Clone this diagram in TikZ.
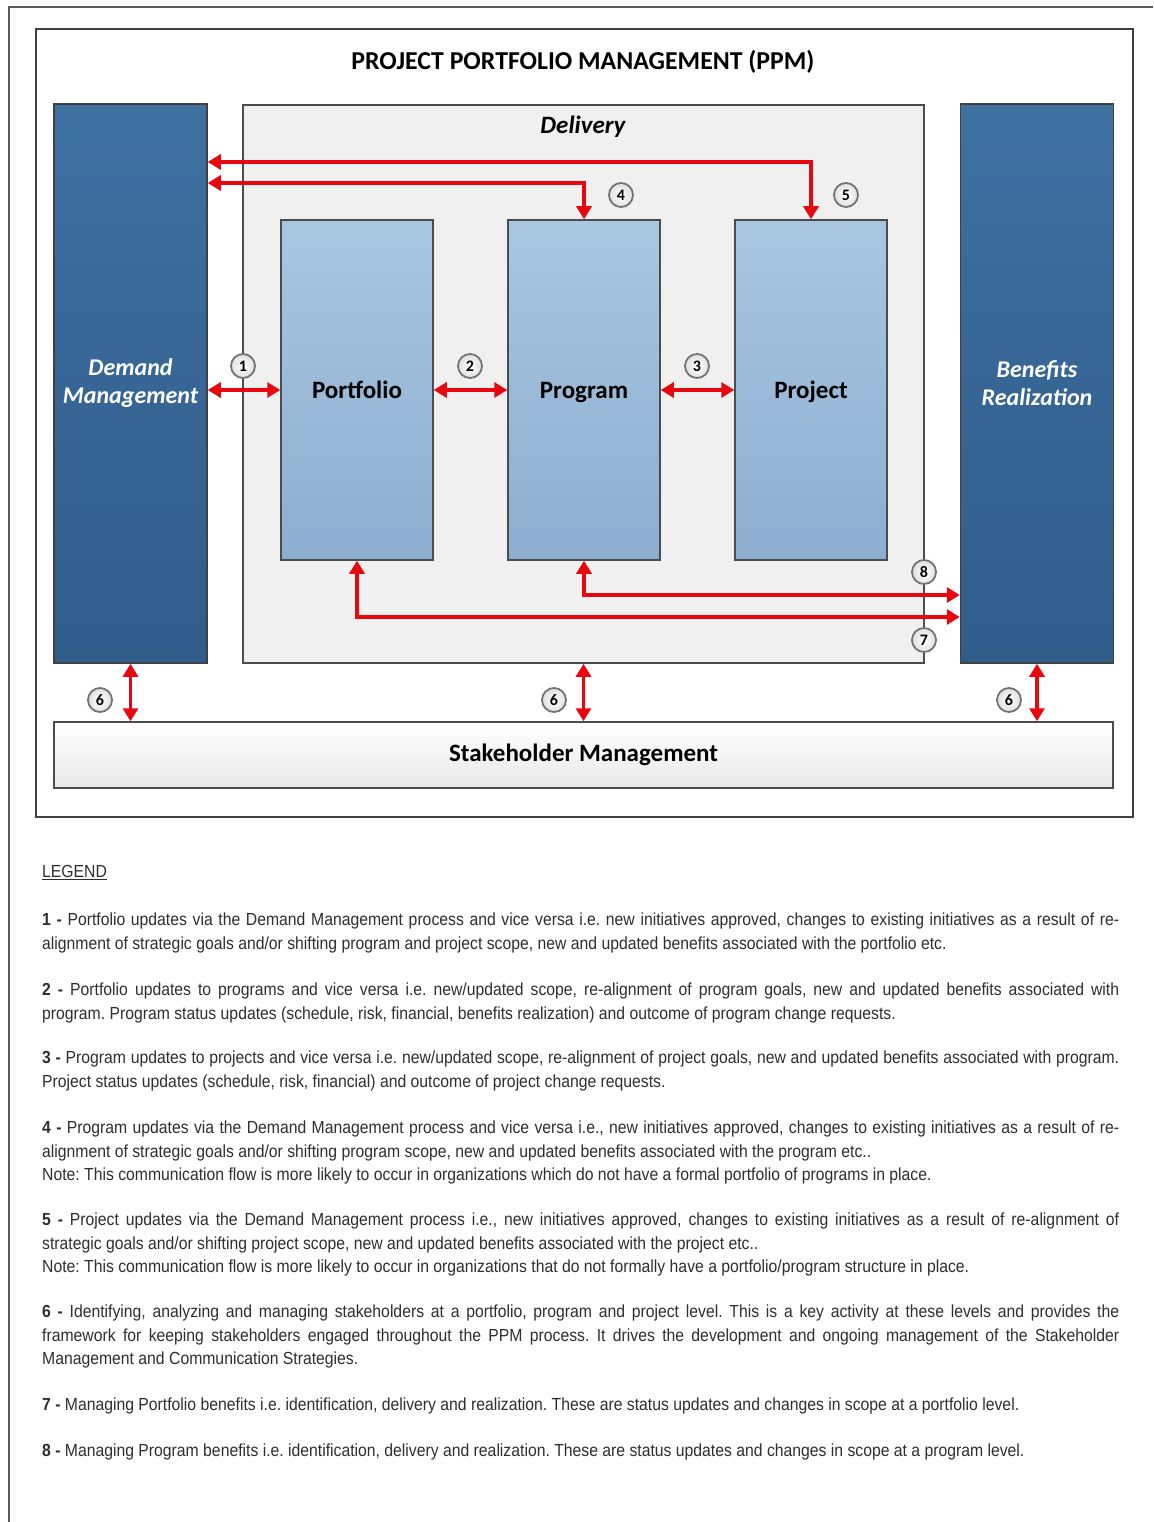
\documentclass[tikz,border=0pt]{standalone}
\usepackage{fontspec}
\setmainfont{Carlito}
\newfontfamily\legendfont[FakeStretch=0.9]{Liberation Sans}
\usetikzlibrary{arrows.meta,positioning}

\definecolor{dark top}{HTML}{3E70A1}
\definecolor{dark bottom}{HTML}{305C8A}
\definecolor{light top}{HTML}{A9C6E1}
\definecolor{light bottom}{HTML}{8CAED0}
\definecolor{flow red}{HTML}{E8070F}
\colorlet{box edge}{black!70}
\colorlet{legend text}{black!82}
\tikzset{
    pageline/.style={draw=black!65, line width=2pt},
    ppmframe/.style={draw=black!75, line width=2pt, minimum width=1097pt, minimum height=788pt},
    headtext/.style={font=\fontsize{25.8}{28}\selectfont\bfseries},
    darkbox/.style={draw=black!75, line width=1.5pt, top color=dark top, bottom color=dark bottom,
        minimum width=153pt, minimum height=559pt, text=white, align=center,
        font=\fontsize{24}{28}\selectfont\bfseries\itshape},
    deliverybox/.style={draw=box edge, line width=1.5pt, fill=black!6, minimum width=681pt, minimum height=558pt},
    lightbox/.style={draw=box edge, line width=1.5pt, top color=light top, bottom color=light bottom,
        minimum width=152pt, minimum height=340pt, text height=20pt, text depth=4pt,
        font=\fontsize{25}{28}\selectfont\bfseries},
    stakebox/.style={draw=box edge, line width=1.5pt, top color=white, bottom color=black!9,
        minimum width=1059pt, minimum height=66pt, font=\fontsize{25}{28}\selectfont\bfseries},
    flow/.style={draw=flow red, line width=3.5pt, <->, >={Triangle[length=13pt,width=15pt]}},
    numcirc/.style={circle, draw=black!55, line width=1.8pt, inner sep=0pt, minimum size=24pt,
        inner color=white, outer color=black!12, font=\fontsize{16}{16}\selectfont\bfseries},
    legendpar/.style={anchor=north west, inner sep=0pt, text width=1077pt, align=justify,
        text=legend text, font=\legendfont\fontsize{17.5}{23.2}\selectfont\frenchspacing}
}

\begin{document}
\begin{tikzpicture}[x=1pt,y=-1pt]
    \useasboundingbox (0,0) rectangle (1153,1522);
    \draw[pageline] (8,7) -- (1153,7);
    \draw[pageline] (9,7) -- (9,1522);

    \node[ppmframe] (ppm) at (584.5,423) {};
    \node[headtext] (title) at (583,62) {PROJECT PORTFOLIO MANAGEMENT (PPM)};

    \node[deliverybox] (delivery) at (583.5,384) {};
    \node[headtext, font=\fontsize{25}{28}\selectfont\bfseries\itshape] (deliverylabel) at (583,127) {Delivery};

    \node[darkbox] (demand) at (130.5,383.5) {Demand\\Management};
    \node[darkbox] (benefits) at (1037,383.5) {Benefits\\Realization};

    \node[lightbox] (portfolio) at (357,390) {Portfolio};
    \node[lightbox] (program) at (584,390) {Program};
    \node[lightbox] (project) at (811,390) {Project};

    \node[stakebox] (stake) at (583.5,755) {Stakeholder Management};

    \draw[flow] (demand.east |- 0,162) -| (project.north);
    \draw[flow] (demand.east |- 0,183) -| (program.north);
    \draw[flow] (demand.east |- portfolio.west) -- (portfolio.west);
    \draw[flow] (portfolio.east) -- (program.west);
    \draw[flow] (program.east) -- (project.west);
    \draw[flow] (program.south) |- (benefits.west |- 0,595);
    \draw[flow] (portfolio.south) |- (benefits.west |- 0,617);
    \foreach \b in {demand,delivery,benefits}
        \draw[flow] (\b.south) -- (\b.south |- stake.north);

    \node[numcirc] (c1) at (243,366) {1};
    \node[numcirc] (c2) at (470,366) {2};
    \node[numcirc] (c3) at (697,366) {3};
    \node[numcirc] (c4) at (621,195) {4};
    \node[numcirc] (c5) at (846,195) {5};
    \node[numcirc] (c6a) at (100,700) {6};
    \node[numcirc] (c6b) at (554,700) {6};
    \node[numcirc] (c6c) at (1009,700) {6};
    \node[numcirc] (c7) at (924,640) {7};
    \node[numcirc] (c8) at (924,572) {8};

    \node[legendpar] (legend) at (42,865) {\underline{LEGEND}};
    \node[legendpar] (leg1) at (42,913) {\textbf{1 -} Portfolio updates via the Demand Management process and vice versa i.e. new initiatives approved, changes to existing initiatives as a result of re-\linebreak alignment of strategic goals and/or shifting program and project scope, new and updated benefits associated with the portfolio etc.};
    \node[legendpar] (leg2) at (42,983) {\textbf{2 -} Portfolio updates to programs and vice versa i.e. new/updated scope, re-alignment of program goals, new and updated benefits associated with\linebreak program. Program status updates (schedule, risk, financial, benefits realization) and outcome of program change requests.};
    \node[legendpar] (leg3) at (42,1051) {\textbf{3 -} Program updates to projects and vice versa i.e. new/updated scope, re-alignment of project goals, new and updated benefits associated with program.\linebreak Project status updates (schedule, risk, financial) and outcome of project change requests.};
    \node[legendpar] (leg4) at (42,1121) {\textbf{4 -} Program updates via the Demand Management process and vice versa i.e., new initiatives approved, changes to existing initiatives as a result of re-\linebreak alignment of strategic goals and/or shifting program scope, new and updated benefits associated with the program etc..\newline Note: This communication flow is more likely to occur in organizations which do not have a formal portfolio of programs in place.};
    \node[legendpar] (leg5) at (42,1213) {\textbf{5 -} Project updates via the Demand Management process i.e., new initiatives approved, changes to existing initiatives as a result of re-alignment of\linebreak strategic goals and/or shifting project scope, new and updated benefits associated with the project etc..\newline Note: This communication flow is more likely to occur in organizations that do not formally have a portfolio/program structure in place.};
    \node[legendpar] (leg6) at (42,1305) {\textbf{6 -} Identifying, analyzing and managing stakeholders at a portfolio, program and project level. This is a key activity at these levels and provides the\linebreak framework for keeping stakeholders engaged throughout the PPM process. It drives the development and ongoing management of the Stakeholder\linebreak Management and Communication Strategies.};
    \node[legendpar] (leg7) at (42,1398) {\textbf{7 -} Managing Portfolio benefits i.e. identification, delivery and realization. These are status updates and changes in scope at a portfolio level.};
    \node[legendpar] (leg8) at (42,1444) {\textbf{8 -} Managing Program benefits i.e. identification, delivery and realization. These are status updates and changes in scope at a program level.};
\end{tikzpicture}
\end{document}
